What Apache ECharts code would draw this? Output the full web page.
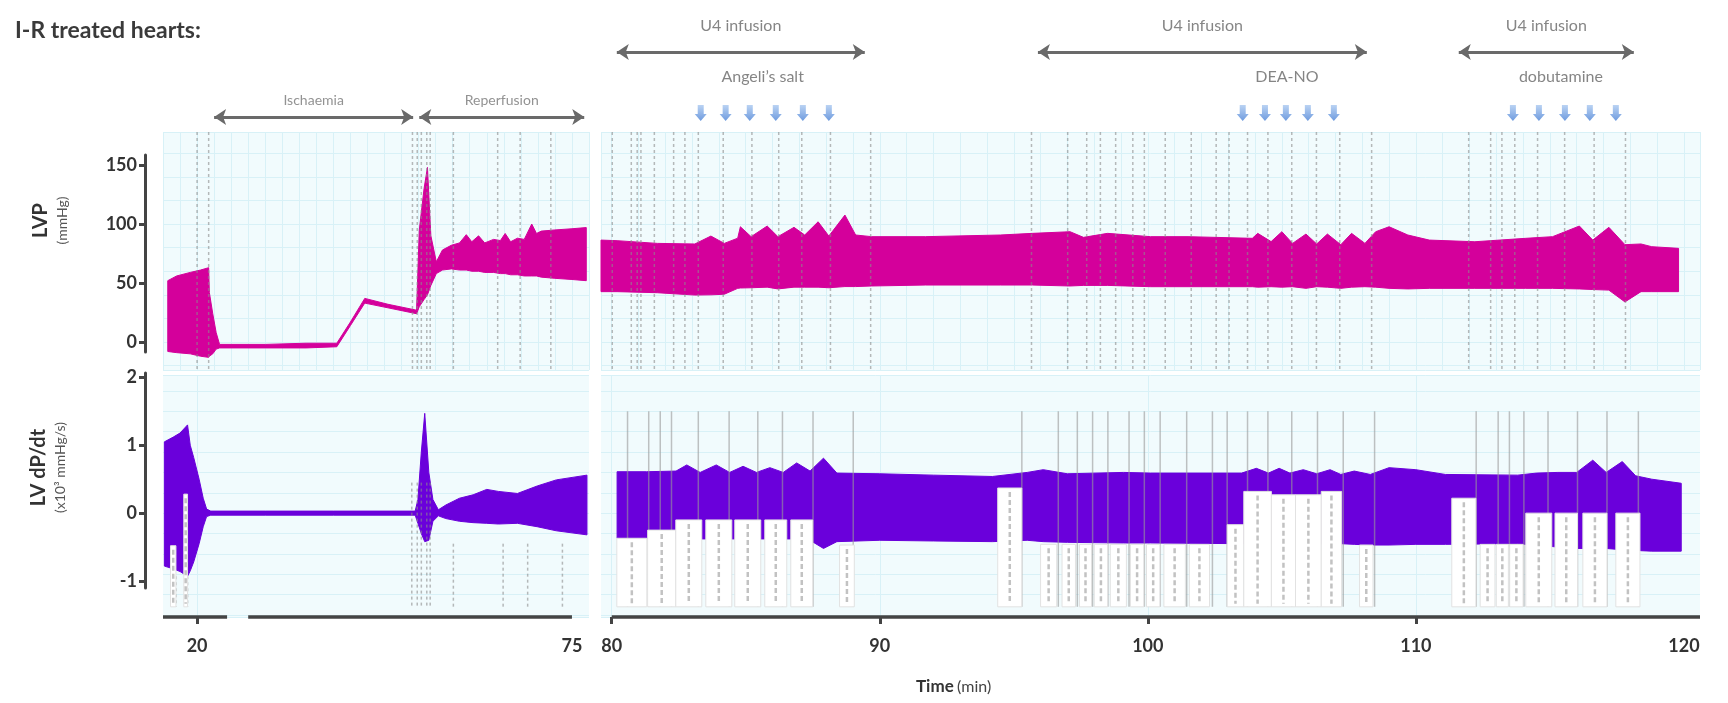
<!DOCTYPE html>
<html>
<head>
<meta charset="utf-8">
<title>I-R treated hearts</title>
<script src="https://cdn.jsdelivr.net/npm/echarts@6/dist/echarts.min.js"></script>
<style>
  html, body { margin: 0; padding: 0; background: #fff; }
  #chart { width: 1728px; height: 703px; }
</style>
</head>
<body>
<div id="chart"></div>
<script>
// time in min, LVP in mmHg, LV dP/dt in x10^3 mmHg/s
// LabChart traces are drawn as min/max envelopes

// LVP, baseline + ischaemia + reperfusion
const lvpLeftTime = [15.7, 17, 19, 20.5, 21.7, 21.8, 22.3, 22.8, 23.3, 30, 36, 40.5, 42.5, 44.6, 48, 52.2, 52.6, 53.3, 53.8, 54.3, 55.1, 56, 57.3, 58.5, 59.5, 60.3, 61.3, 62.2, 63.5, 64.5, 65.2, 66, 67, 68, 69.1, 69.8, 70.5, 72.5, 75, 77.1];
const lvpLeftLow = [-8, -9, -10, -12, -13, -12, -10, -6, -5, -5, -5, -4, 14, 33, 29, 24, 30, 36, 40, 48, 58, 61, 62, 61, 61, 60, 60, 59, 59, 58, 58, 57, 57, 56, 56, 56, 55, 54, 53, 52];
const lvpLeftHigh = [52, 56, 59, 61, 63, 42, 24, 8, -2, -2, -1, -1, 17, 37, 32, 27, 95, 130, 148, 90, 68, 78, 82, 84, 91, 85, 90, 84, 87, 86, 92, 85, 88, 87, 100, 92, 94, 95, 96, 97];

// LVP, drug protocol
const lvpRightTime = [79.6, 80.2, 81.7, 83.1, 83.7, 84.2, 84.7, 84.8, 85.2, 85.8, 86.2, 86.8, 87.2, 87.7, 88.1, 88.7, 89.1, 89.7, 91.7, 94.5, 95.7, 97.1, 97.6, 98.5, 100.1, 101.5, 103.9, 104.1, 104.6, 105.0, 105.4, 105.9, 106.3, 106.7, 107.2, 107.6, 108.1, 108.5, 109.0, 109.7, 110.5, 112.2, 114.1, 115.1, 116.1, 116.6, 117.2, 117.8, 118.4, 118.8, 119.8];
const lvpRightLow = [42.7, 42.7, 41.8, 39.8, 40, 40.5, 45.5, 45.8, 46, 46.5, 45, 46.5, 46.5, 46.5, 46, 47, 47, 47.5, 48.3, 48.3, 48.3, 47.5, 48, 48, 46.9, 46.9, 46.9, 46.5, 46.9, 46.5, 46.9, 45.5, 46.9, 46.5, 45.5, 46.5, 46.9, 46.5, 45.5, 45, 45.5, 45.5, 45.5, 45.5, 45, 44.5, 44, 34, 42.7, 42.7, 42.7];
const lvpRightHigh = [86.4, 85.9, 83.6, 83.1, 89.8, 83.6, 88, 97.7, 89.3, 98.3, 89.3, 97.2, 90.7, 101.9, 89.8, 107.6, 90.7, 89.3, 89.3, 90.7, 92.1, 93.5, 88.7, 92.1, 89.3, 89.3, 87.9, 92.1, 85.1, 93.5, 83.6, 91.5, 83.1, 91.5, 82.5, 92.1, 83.6, 93.5, 97.7, 90.7, 86.4, 85, 87.9, 89.3, 98.3, 86.4, 97.2, 82.5, 83.1, 80.8, 79.4];

// dP/dt, baseline + ischaemia + reperfusion
const dpdtLeftTime = [15.2, 16.5, 17.5, 18.6, 19.0, 19.5, 20.3, 20.9, 21.4, 22, 30, 40, 52, 52.4, 52.9, 53.4, 54.0, 54.6, 55.4, 56.5, 58.5, 60.5, 62.5, 64.2, 67.0, 69.9, 72.7, 77.2];
const dpdtLeftLow = [-0.78, -0.82, -0.86, -0.93, -0.85, -0.72, -0.45, -0.2, -0.05, -0.03, -0.03, -0.03, -0.03, -0.15, -0.3, -0.42, -0.4, -0.12, -0.04, -0.08, -0.12, -0.14, -0.15, -0.16, -0.15, -0.2, -0.26, -0.32];
const dpdtLeftHigh = [1.05, 1.12, 1.18, 1.3, 1.0, 0.82, 0.5, 0.22, 0.06, 0.03, 0.03, 0.03, 0.03, 0.2, 0.9, 1.47, 0.6, 0.2, 0.05, 0.12, 0.22, 0.27, 0.35, 0.32, 0.29, 0.4, 0.49, 0.56];

// dP/dt, drug protocol
const dpdtRightTime = [80.2, 81.3, 82.4, 82.8, 83.3, 83.9, 84.4, 84.9, 85.4, 85.9, 86.4, 86.9, 87.4, 87.9, 88.4, 90, 92, 94.2, 95.5, 96.1, 97, 99.1, 100.1, 103.5, 104.05, 104.5, 104.9, 105.3, 105.8, 106.3, 106.8, 107.2, 107.7, 108.3, 109.0, 110.0, 111.1, 113.8, 114.5, 115.3, 116.0, 116.6, 117.1, 117.7, 118.2, 118.8, 119.9];
const dpdtRightLow = [-0.37, -0.37, -0.38, -0.38, -0.38, -0.38, -0.38, -0.38, -0.38, -0.38, -0.38, -0.38, -0.4, -0.52, -0.42, -0.4, -0.41, -0.42, -0.4, -0.42, -0.43, -0.44, -0.44, -0.45, -0.45, -0.45, -0.45, -0.45, -0.45, -0.45, -0.45, -0.45, -0.46, -0.47, -0.47, -0.46, -0.46, -0.45, -0.47, -0.5, -0.52, -0.52, -0.52, -0.54, -0.55, -0.56, -0.56];
const dpdtRightHigh = [0.61, 0.61, 0.62, 0.71, 0.6, 0.71, 0.6, 0.69, 0.6, 0.67, 0.6, 0.74, 0.62, 0.81, 0.59, 0.58, 0.56, 0.54, 0.6, 0.64, 0.58, 0.6, 0.59, 0.59, 0.66, 0.59, 0.66, 0.59, 0.64, 0.58, 0.64, 0.57, 0.62, 0.57, 0.67, 0.64, 0.57, 0.56, 0.59, 0.6, 0.6, 0.78, 0.6, 0.76, 0.55, 0.5, 0.44];

// comment markers (min)
const lvpLeftEvents = [20.0, 21.7, 51.6, 52.3, 52.9, 53.7, 54.2, 57.6, 64.1, 67.4, 71.9];
const lvpRightEvents = [80.02, 80.73, 80.95, 81.09, 81.59, 82.31, 82.73, 83.23, 84.16, 85.23, 86.23, 87.09, 88.16, 89.66, 95.66, 97.01, 97.72, 98.23, 98.8, 99.44, 99.87, 100.65, 101.62, 102.55, 103.03, 103.72, 104.48, 105.37, 106.29, 107.16, 108.35, 111.97, 112.79, 113.21, 113.69, 114.54, 115.55, 116.65, 117.82];
const dpdtLeftEvents = [16.9, 18.6, 51.5, 52.3, 52.9, 53.7, 54.2, 57.6, 64.9, 68.5, 73.6];
const dpdtLeftEventTop = [-0.93, -0.93, 0.45, 0.45, 0.45, 0.45, 0.45, -0.45, -0.45, -0.45, -0.45];
const dpdtRightEvents = [80.59, 81.38, 81.81, 82.23, 83.23, 84.38, 85.45, 86.37, 87.51, 89.01, 95.3, 96.66, 97.37, 97.94, 98.51, 99.3, 99.87, 100.46, 101.45, 102.41, 102.96, 103.72, 104.48, 105.37, 106.33, 107.29, 108.46, 112.25, 113.07, 113.49, 114.03, 114.93, 116.03, 117.13, 118.3];

// comment text boxes in the dP/dt panel: start, end (min), top (x10^3 mmHg/s)
const boxLeftStart = [16.1, 18.05];
const boxLeftEnd = [16.9, 18.6];
const boxLeftTop = [-0.48, 0.28];
const boxRightStart = [80.19, 81.34, 82.39, 83.51, 84.59, 85.71, 86.68, 88.5, 94.4, 96.0, 96.8, 97.45, 98.0, 98.6, 99.35, 99.95, 100.6, 101.55, 102.96, 103.58, 104.61, 105.51, 106.47, 107.9, 111.34, 112.4, 113.0, 113.5, 114.1, 115.19, 116.23, 117.46];
const boxRightEnd = [81.31, 82.39, 83.36, 84.48, 85.56, 86.53, 87.5, 89.05, 95.3, 96.6, 97.3, 97.9, 98.5, 99.2, 99.85, 100.45, 101.4, 102.3, 103.58, 104.61, 105.51, 106.47, 107.23, 108.4, 112.24, 112.95, 113.45, 114.0, 115.07, 116.03, 117.13, 118.36];
const boxRightTop = [-0.37, -0.25, -0.1, -0.1, -0.1, -0.1, -0.1, -0.47, 0.37, -0.46, -0.46, -0.46, -0.46, -0.46, -0.46, -0.46, -0.46, -0.46, -0.17, 0.32, 0.27, 0.27, 0.32, -0.47, 0.22, -0.46, -0.46, -0.46, 0.0, 0.0, 0.0, 0.0];

// protocol annotations
const phaseNames = ['Ischaemia', 'Reperfusion'];
const phaseStart = [22.5, 52.6];
const phaseEnd = [51.7, 76.8];
const infusionStart = [80.19, 95.9, 111.6];
const infusionEnd = [89.44, 108.17, 118.13];
const drugNames = ['Angeli\u2019s salt', 'DEA-NO', 'dobutamine'];
const drugLabelTime = [85.63, 105.19, 115.41];
const doseTimes = [83.32, 84.25, 85.15, 86.12, 87.13, 88.1, 103.54, 104.37, 105.15, 105.97, 106.94, 113.62, 114.59, 115.56, 116.49, 117.46];

// axis ticks
const lvpTicks = [0, 50, 100, 150];
const dpdtTicks = [-1, 0, 1, 2];
const leftTimeTicks = [20];
const leftTimeLabels = [20, 75];
const rightTimeTicks = [80, 90, 100, 110];
const rightTimeLabels = [80, 90, 100, 110, 120];
const leftAxisPieces = [[15, 24.4], [27.5, 75]];
const rightAxisPieces = [[80, 120.6]];

// ---- layout ----
const FONT = 'Lato, "Open Sans", sans-serif';
const LEFT_X = { min: 15, max: 77.5 };
const RIGHT_X = { min: 79.6, max: 120.6 };
const LVP_Y = { min: -23.7, max: 178 };
const DPDT_Y = { min: -1.53, max: 2.035 };
const BOX_BOTTOM = -1.38;
const ROW = { infLabel: 26, infArrow: 52, drug: 77, dose: 113, phaseLabel: 100, phaseArrow: 117 };
const LVP_COLOR = '#d4009b';
const DPDT_COLOR = '#6a00db';
const BG = '#f1fbfd';
const GRIDLINE = '#d8f1f7';

const chart = echarts.init(document.getElementById('chart'));

function band(xi, time, low, high, color) {
  return {
    type: 'custom', xAxisIndex: xi, yAxisIndex: xi, z: 2, silent: true,
    data: [[time[0], high[0]]],
    renderItem: function (params, api) {
      const pts = [];
      for (let i = 0; i < time.length; i++) pts.push(api.coord([time[i], high[i]]));
      for (let i = time.length - 1; i >= 0; i--) pts.push(api.coord([time[i], low[i]]));
      return { type: 'polygon', shape: { points: pts }, style: { fill: color, stroke: color, lineWidth: 1 } };
    }
  };
}

function events(xi, times, tops, bottom, stroke, dash) {
  return {
    type: 'custom', xAxisIndex: xi, yAxisIndex: xi, z: 3, silent: true,
    data: times.map((t, i) => [t, tops[i]]),
    renderItem: function (params, api) {
      const a = api.coord([api.value(0), api.value(1)]);
      const b = api.coord([api.value(0), bottom]);
      return {
        type: 'line',
        shape: { x1: a[0], y1: a[1], x2: b[0], y2: b[1] },
        style: { stroke: stroke, lineWidth: 1.5, lineDash: dash, opacity: 0.6 }
      };
    }
  };
}

function boxes(xi, starts, ends, tops) {
  return {
    type: 'custom', xAxisIndex: xi, yAxisIndex: xi, z: 4, silent: true,
    data: starts.map((s, i) => [s, ends[i], tops[i]]),
    renderItem: function (params, api) {
      const a = api.coord([api.value(0), api.value(2)]);
      const b = api.coord([api.value(1), BOX_BOTTOM]);
      const cx = (a[0] + b[0]) / 2;
      return {
        type: 'group',
        children: [
          { type: 'rect', shape: { x: a[0], y: a[1], width: b[0] - a[0], height: b[1] - a[1] },
            style: { fill: '#ffffff', stroke: '#e2e2e2', lineWidth: 1 } },
          { type: 'line', shape: { x1: cx, y1: a[1] + 4, x2: cx, y2: b[1] - 3 },
            style: { stroke: '#c2c2c2', lineWidth: 2.5, lineDash: [5, 3] } }
        ]
      };
    }
  };
}

function axisPieces(xi, pieces) {
  return {
    type: 'custom', xAxisIndex: xi, yAxisIndex: xi, z: 6, silent: true,
    data: pieces,
    renderItem: function (params, api) {
      const a = api.coord([api.value(0), DPDT_Y.min]);
      const b = api.coord([api.value(1), DPDT_Y.min]);
      return { type: 'line', shape: { x1: a[0], y1: a[1], x2: b[0], y2: b[1] },
        style: { stroke: '#444', lineWidth: 3.5 } };
    }
  };
}

function textLabels(xi, data, size, color) {
  return {
    type: 'scatter', xAxisIndex: xi, yAxisIndex: xi, silent: true,
    symbolSize: 1, itemStyle: { color: 'rgba(0,0,0,0)' },
    data: data,
    label: { show: true, position: 'inside', formatter: p => p.data[2],
      color: color, fontSize: size, fontFamily: FONT }
  };
}

function arrows(xi, starts, ends, row) {
  return {
    type: 'lines', coordinateSystem: 'cartesian2d', xAxisIndex: xi, yAxisIndex: xi, silent: true,
    symbol: ['arrow', 'arrow'], symbolSize: 12,
    lineStyle: { color: '#6a6a6a', width: 3, opacity: 1 },
    data: starts.map((s, i) => ({ coords: [[s, row], [ends[i], row]] }))
  };
}

const hiddenParts = { axisLine: { show: false, onZero: false }, axisTick: { show: false }, axisLabel: { show: false } };
const bgSplit = { show: true, lineStyle: { color: GRIDLINE, width: 1 } };
const tickLabel = { fontSize: 18, fontWeight: 'bold', color: '#333', fontFamily: FONT };

const option = {
  animation: false,
  backgroundColor: '#ffffff',
  title: [{
    text: 'I-R treated hearts:', left: 10, top: 14,
    textStyle: { fontSize: 23, fontWeight: 'bold', color: '#3a3a3a', fontFamily: FONT }
  }],
  graphic: [{
    type: 'text', left: 916, top: 678,
    style: {
      text: '{a|Time} {b|(min)}',
      rich: {
        a: { fontSize: 17, fontWeight: 'bold', fill: '#333', fontFamily: FONT },
        b: { fontSize: 16, fill: '#444', fontFamily: FONT }
      }
    }
  }],
  grid: [
    { left: 163, width: 426, top: 132, height: 238, show: true, backgroundColor: BG, borderWidth: 0 },
    { left: 601, width: 1099, top: 132, height: 238, show: true, backgroundColor: BG, borderWidth: 0 },
    { left: 163, width: 426, top: 375, height: 242, show: true, backgroundColor: BG, borderWidth: 0 },
    { left: 601, width: 1099, top: 375, height: 242, show: true, backgroundColor: BG, borderWidth: 0 },
    { left: 163, width: 426, top: 0, height: 130 },
    { left: 601, width: 1099, top: 0, height: 130 },
    { left: 145, width: 10, top: 155, height: 197 },
    { left: 145, width: 10, top: 373, height: 215 }
  ],
  xAxis: [
    Object.assign({ type: 'value', gridIndex: 0, min: LEFT_X.min, max: LEFT_X.max, interval: 2.5, splitLine: bgSplit }, hiddenParts),
    Object.assign({ type: 'value', gridIndex: 1, min: RIGHT_X.min, max: RIGHT_X.max, splitNumber: 40, splitLine: bgSplit }, hiddenParts),
    { type: 'value', gridIndex: 2, min: LEFT_X.min, max: LEFT_X.max, interval: 2.5, splitLine: bgSplit,
      axisLine: { show: false, onZero: false },
      axisTick: { show: true, customValues: leftTimeTicks, length: 7, lineStyle: { color: '#444', width: 3 } },
      axisLabel: Object.assign({ customValues: leftTimeLabels, margin: 20 }, tickLabel) },
    { type: 'value', gridIndex: 3, min: RIGHT_X.min, max: RIGHT_X.max, splitNumber: 40, splitLine: bgSplit,
      axisLine: { show: false, onZero: false },
      axisTick: { show: true, customValues: rightTimeTicks, length: 7, lineStyle: { color: '#444', width: 3 } },
      axisLabel: Object.assign({ customValues: rightTimeLabels, margin: 20 }, tickLabel) },
    Object.assign({ type: 'value', gridIndex: 4, min: LEFT_X.min, max: LEFT_X.max, splitLine: { show: false } }, hiddenParts),
    Object.assign({ type: 'value', gridIndex: 5, min: RIGHT_X.min, max: RIGHT_X.max, splitLine: { show: false } }, hiddenParts),
    { type: 'value', gridIndex: 6, min: 0, max: 1, show: false },
    { type: 'value', gridIndex: 7, min: 0, max: 1, show: false }
  ],
  yAxis: [
    Object.assign({ type: 'value', gridIndex: 0, min: LVP_Y.min, max: LVP_Y.max, splitNumber: 10, splitLine: bgSplit }, hiddenParts),
    Object.assign({ type: 'value', gridIndex: 1, min: LVP_Y.min, max: LVP_Y.max, splitNumber: 10, splitLine: bgSplit }, hiddenParts),
    Object.assign({ type: 'value', gridIndex: 2, min: DPDT_Y.min, max: DPDT_Y.max, splitNumber: 12, splitLine: bgSplit }, hiddenParts),
    Object.assign({ type: 'value', gridIndex: 3, min: DPDT_Y.min, max: DPDT_Y.max, splitNumber: 12, splitLine: bgSplit }, hiddenParts),
    Object.assign({ type: 'value', gridIndex: 4, min: 0, max: 130, inverse: true, splitLine: { show: false } }, hiddenParts),
    Object.assign({ type: 'value', gridIndex: 5, min: 0, max: 130, inverse: true, splitLine: { show: false } }, hiddenParts),
    { type: 'value', gridIndex: 6, position: 'left', min: -8.47, max: 158.5,
      splitLine: { show: false },
      axisLine: { show: true, onZero: false, lineStyle: { color: '#444', width: 3 } },
      axisTick: { show: true, customValues: lvpTicks, length: 6, lineStyle: { color: '#444', width: 3 } },
      axisLabel: Object.assign({ customValues: lvpTicks, margin: 8 }, tickLabel),
      name: '{a|LVP}\n{b|(mmHg)}', nameLocation: 'middle', nameRotate: 90, nameGap: 74,
      nameTextStyle: { padding: [0, 0, 0, 66], rich: {
        a: { fontSize: 20, fontWeight: 'bold', color: '#333', fontFamily: FONT, lineHeight: 24 },
        b: { fontSize: 14, color: '#555', fontFamily: FONT, lineHeight: 18 } } } },
    { type: 'value', gridIndex: 7, position: 'left', min: -1.1, max: 2.065,
      splitLine: { show: false },
      axisLine: { show: true, onZero: false, lineStyle: { color: '#444', width: 3 } },
      axisTick: { show: true, customValues: dpdtTicks, length: 6, lineStyle: { color: '#444', width: 3 } },
      axisLabel: Object.assign({ customValues: dpdtTicks, margin: 8 }, tickLabel),
      name: '{a|LV dP/dt}\n{b|(x10\u00b3 mmHg/s)}', nameLocation: 'middle', nameRotate: 90, nameGap: 76,
      nameTextStyle: { padding: [0, 0, 0, 26], rich: {
        a: { fontSize: 20, fontWeight: 'bold', color: '#333', fontFamily: FONT, lineHeight: 24 },
        b: { fontSize: 14, color: '#555', fontFamily: FONT, lineHeight: 18 } } } }
  ],
  series: [
    band(0, lvpLeftTime, lvpLeftLow, lvpLeftHigh, LVP_COLOR),
    band(1, lvpRightTime, lvpRightLow, lvpRightHigh, LVP_COLOR),
    band(2, dpdtLeftTime, dpdtLeftLow, dpdtLeftHigh, DPDT_COLOR),
    band(3, dpdtRightTime, dpdtRightLow, dpdtRightHigh, DPDT_COLOR),
    events(0, lvpLeftEvents, lvpLeftEvents.map(() => LVP_Y.max), LVP_Y.min, '#8c8c8c', [3, 3]),
    events(1, lvpRightEvents, lvpRightEvents.map(() => LVP_Y.max), LVP_Y.min, '#8c8c8c', [3, 3]),
    events(2, dpdtLeftEvents, dpdtLeftEventTop, BOX_BOTTOM, '#8c8c8c', [3, 3]),
    events(3, dpdtRightEvents, dpdtRightEvents.map(() => 1.5), BOX_BOTTOM, '#9a9a9a', null),
    boxes(2, boxLeftStart, boxLeftEnd, boxLeftTop),
    boxes(3, boxRightStart, boxRightEnd, boxRightTop),
    axisPieces(2, leftAxisPieces),
    axisPieces(3, rightAxisPieces),
    arrows(4, phaseStart, phaseEnd, ROW.phaseArrow),
    arrows(5, infusionStart, infusionEnd, ROW.infArrow),
    textLabels(4, phaseNames.map((n, i) => [(phaseStart[i] + phaseEnd[i]) / 2, ROW.phaseLabel, n]), 14, '#777'),
    textLabels(5, infusionStart.map((s, i) => [(s + infusionEnd[i]) / 2, ROW.infLabel, 'U4 infusion']), 16, '#666'),
    textLabels(5, drugNames.map((n, i) => [drugLabelTime[i], ROW.drug, n]), 16, '#666'),
    {
      type: 'scatter', xAxisIndex: 5, yAxisIndex: 5, silent: true,
      symbol: 'path://M3,0 L9,0 L9,9 L12,9 L6,16 L0,9 L3,9 Z', symbolSize: [12, 16],
      itemStyle: { color: { type: 'linear', x: 0, y: 0, x2: 0, y2: 1,
        colorStops: [{ offset: 0, color: '#a9c8f0' }, { offset: 1, color: '#4a82d6' }] } },
      data: doseTimes.map(t => [t, ROW.dose])
    }
  ]
};

chart.setOption(option);
window.addEventListener('resize', function () { chart.resize(); });
</script>
</body>
</html>
